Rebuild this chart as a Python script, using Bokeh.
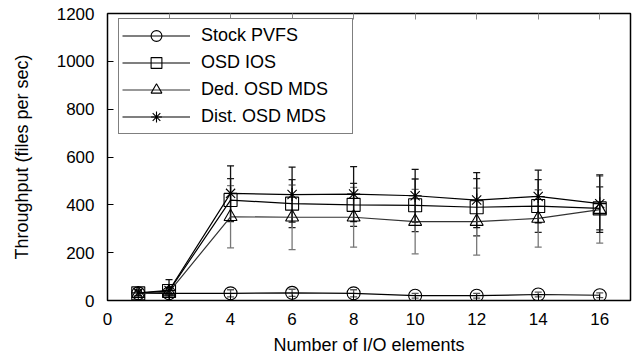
from bokeh.plotting import figure
from bokeh.models import (ColumnDataSource, Whisker, TeeHead, Legend, LegendItem,
                          LinearAxis, FixedTicker, Range1d)
from bokeh.embed import file_html
from bokeh.resources import INLINE

x_vals = [1, 2, 4, 6, 8, 10, 12, 14, 16]

stock_pvfs = [30, 30, 30, 32, 30, 20, 20, 25, 22]
stock_err = [10, 10, 15, 15, 15, 10, 10, 10, 10]

osd_ios = [30, 40, 420, 405, 400, 398, 390, 395, 385]
osd_ios_err = [10, 15, 90, 100, 90, 110, 120, 110, 90]

ded_mds = [28, 35, 350, 348, 348, 330, 330, 343, 380]
ded_mds_err = [10, 15, 130, 135, 125, 135, 140, 120, 140]

dist_mds = [32, 42, 448, 443, 445, 438, 420, 435, 405]
dist_mds_err = [12, 45, 115, 115, 115, 110, 115, 110, 120]

x_ticks = [0, 2, 4, 6, 8, 10, 12, 14, 16]
y_ticks = [0, 200, 400, 600, 800, 1000, 1200]

series = [
    ("Stock PVFS", stock_pvfs, stock_err, "circle", "black", "#555555"),
    ("OSD IOS", osd_ios, osd_ios_err, "square", "black", "#222222"),
    ("Ded. OSD MDS", ded_mds, ded_mds_err, "triangle", "#333333", "#777777"),
    ("Dist. OSD MDS", dist_mds, dist_mds_err, "asterisk", "black", "#111111"),
]

FONT = "Liberation Sans"

p = figure(width=637, height=360, output_backend="svg", toolbar_location=None,
           x_range=Range1d(0, 17), y_range=Range1d(0, 1200),
           min_border_left=107, min_border_top=13, min_border_bottom=60, min_border_right=7)
p.grid.visible = False
p.outline_line_color = "black"
p.outline_line_width = 1.5

p.xaxis.ticker = FixedTicker(ticks=x_ticks)
p.yaxis.ticker = FixedTicker(ticks=y_ticks)
p.xaxis.axis_label = "Number of I/O elements"
p.yaxis.axis_label = "Throughput (files per sec)"
for ax in (p.xaxis[0], p.yaxis[0]):
    ax.major_tick_in = 6
    ax.major_tick_out = 0
    ax.minor_tick_line_color = None
    ax.axis_line_color = "black"
    ax.major_label_text_font = FONT
    ax.major_label_text_font_size = "17px"
    ax.axis_label_text_font = FONT
    ax.axis_label_text_font_size = "18px"
    ax.axis_label_text_font_style = "normal"
    ax.major_label_text_color = "black"
    ax.axis_label_text_color = "black"
p.xaxis.major_label_standoff = 12
p.yaxis.major_label_standoff = 13
p.xaxis.axis_label_standoff = 7
p.yaxis.axis_label_standoff = 22

top = LinearAxis(ticker=FixedTicker(ticks=x_ticks),
                 major_label_text_font_size="0px", major_tick_in=6, major_tick_out=0,
                 minor_tick_line_color=None, major_label_standoff=0, axis_line_color=None,
                 major_tick_line_color="#888888")
p.add_layout(top, "above")

items = []
for name, vals, errs, marker, lcolor, ecolor in series:
    src = ColumnDataSource(dict(x=x_vals, y=vals,
                                upper=[v + e for v, e in zip(vals, errs)],
                                lower=[v - e for v, e in zip(vals, errs)]))
    w = Whisker(source=src, base="x", upper="upper", lower="lower",
                line_color=ecolor, line_width=1.3,
                upper_head=TeeHead(size=7, line_color=ecolor, line_width=1.3),
                lower_head=TeeHead(size=7, line_color=ecolor, line_width=1.3))
    p.add_layout(w)
    r_line = p.line("x", "y", source=src, line_color=lcolor, line_width=1.2)
    r_mark = p.scatter("x", "y", source=src, marker=marker, size=13,
                       fill_color=None, line_color="black", line_width=1.1)
    items.append(LegendItem(label=name, renderers=[r_line, r_mark]))

legend = Legend(items=items, location=(11, 166),
                border_line_color="black", border_line_width=1.3,
                label_text_font=FONT, label_text_font_size="18px",
                label_text_color="black",
                glyph_width=68, glyph_height=27, label_height=20, label_width=148,
                spacing=0, padding=3, label_standoff=11,
                background_fill_alpha=1.0)
p.add_layout(legend)

open("out.html", "w").write(file_html(p, INLINE))
